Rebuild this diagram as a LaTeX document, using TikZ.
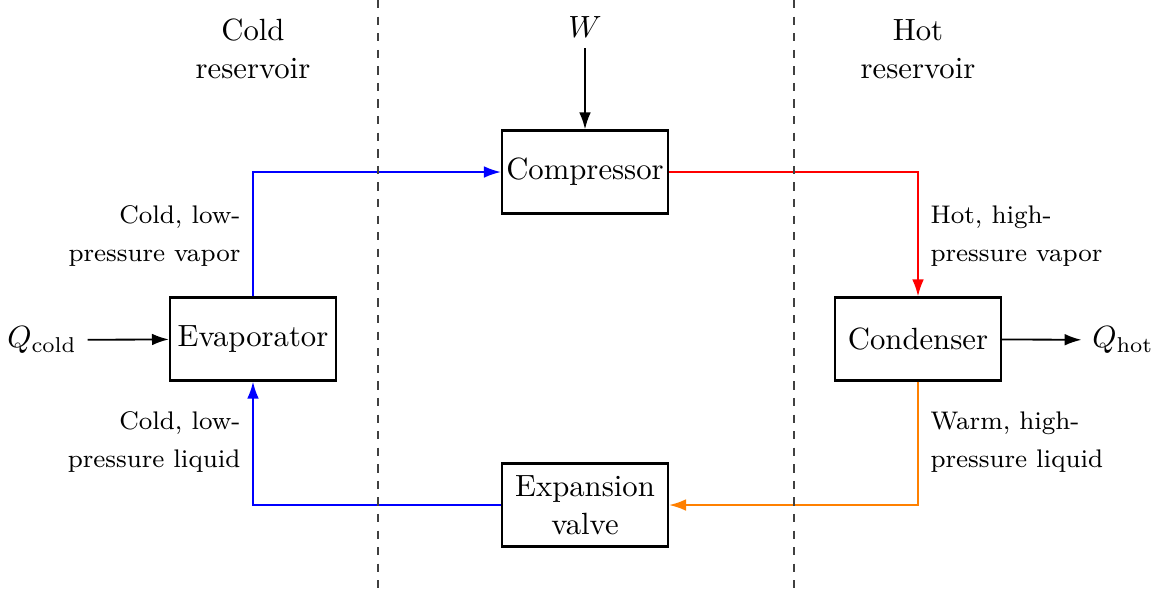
\documentclass[tikz,border=0pt]{standalone}
\usetikzlibrary{arrows.meta}
\begin{document}
\begin{tikzpicture}[x=0.3257pt,y=-0.3257pt,
  blk/.style={draw,thick,minimum width=54pt,minimum height=27pt,inner sep=1pt,align=center},
  flow/.style={line width=0.6pt,-{Latex[length=5.5pt,width=3.8pt]}},
  sep/.style={black!75,line width=0.4pt,dash pattern=on 2.7pt off 2.7pt},
  lbl/.style={font=\fontsize{8.3}{12.2}\selectfont,inner sep=0pt},
  res/.style={align=center,font=\fontsize{10}{12.3}\selectfont}]
\useasboundingbox (0,0) rectangle (1158,588);
\node[res] (coldres) at (253,49) {Cold\\reservoir};
\node[res] (hotres) at (918,49) {Hot\\reservoir};
\node[blk] (comp) at (585,172) {Compressor};
\node[blk] (evap) at (253,339) {Evaporator};
\node[blk] (cond) at (918,339) {Condenser};
\node[blk,font=\fontsize{10}{12.3}\selectfont] (valve) at (585,505) {Expansion\\valve};
\node (W) at (585,27) {$W$};
\node (Qc) at (42,340) {$Q_{\mathrm{cold}}$};
\node (Qh) at (1123,340) {$Q_{\mathrm{hot}}$};
\draw[flow] (W) -- (comp);
\draw[flow] (Qc) -- (evap);
\draw[flow] (cond) -- (Qh);
\draw[flow,blue] (evap.north) |- (comp.west);
\draw[flow,red] (comp.east) -| (cond.north);
\draw[flow,orange] (cond.south) |- (valve.east);
\draw[flow,blue] (valve.west) -| (evap.south);
\coordinate (d1t) at (378,0);
\coordinate (d1b) at (378,588);
\coordinate (d2t) at (794,0);
\coordinate (d2b) at (794,588);
\draw[sep] (d1t) -- (d1b);
\draw[sep] (d2t) -- (d2b);
\node[lbl,anchor=east,align=right] (l1) at (241,236) {Cold, low-\\pressure vapor};
\node[lbl,anchor=east,align=right] (l2) at (241,442) {Cold, low-\\pressure liquid};
\node[lbl,anchor=west,align=left] (l3) at (930,236) {Hot, high-\\pressure vapor};
\node[lbl,anchor=west,align=left] (l4) at (930,442) {Warm, high-\\pressure liquid};
\end{tikzpicture}
\end{document}
